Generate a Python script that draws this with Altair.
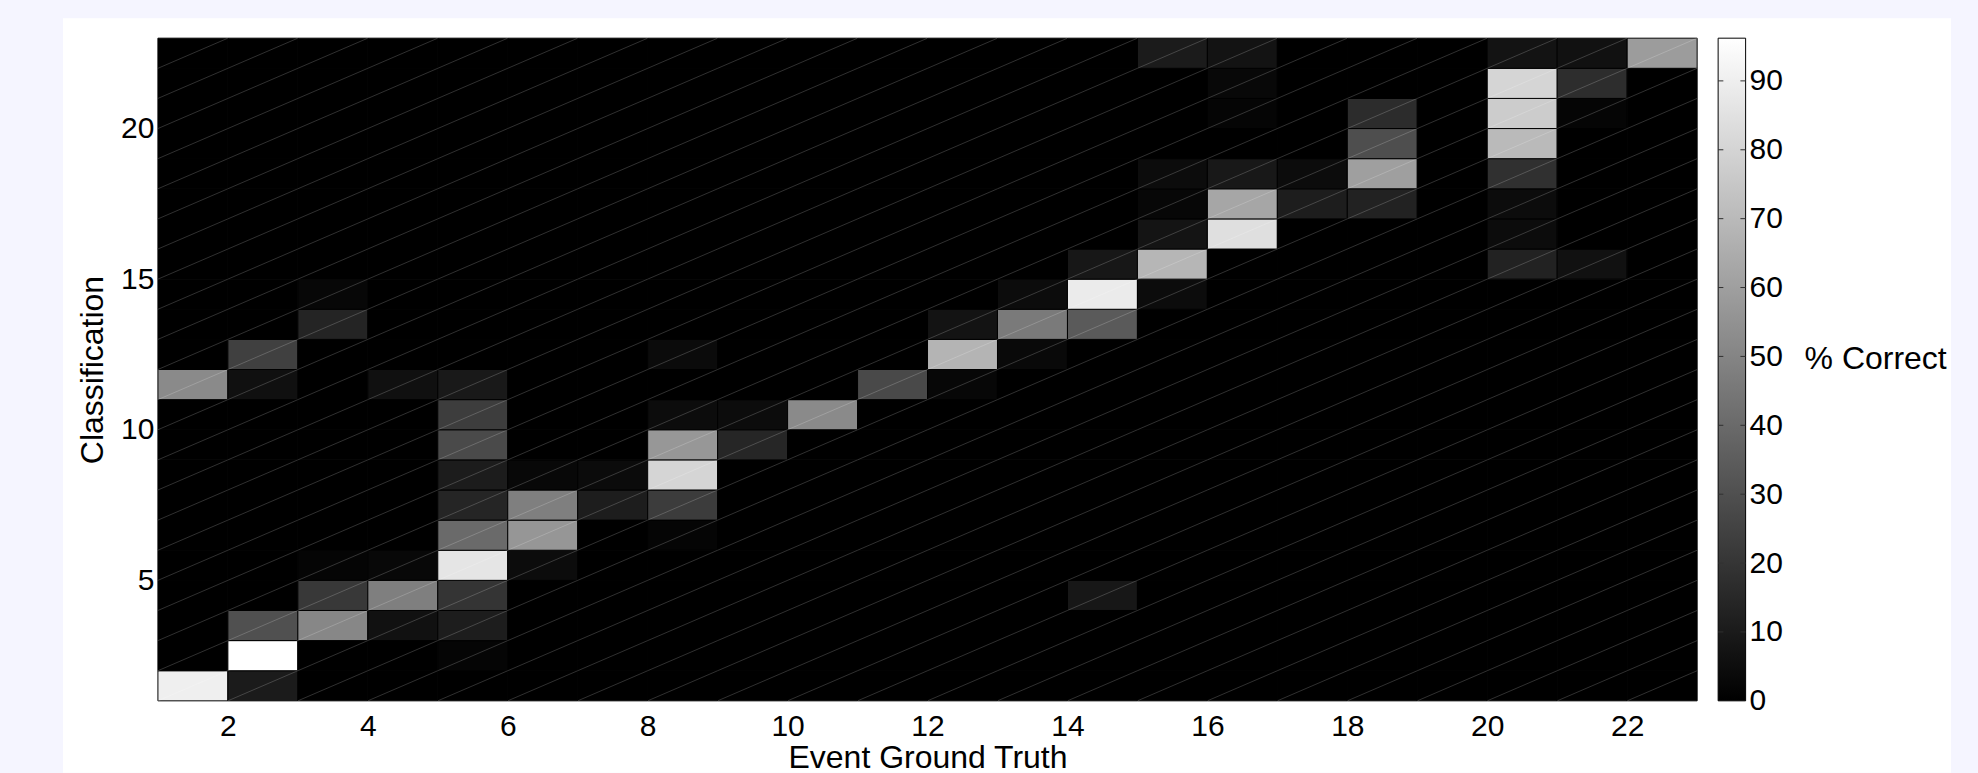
import altair as alt
import pandas as pd

# ---- data (cells not listed are 0 % ) ----
# column = event ground truth, row = classification, value = % correct
truth = [1, 2,
         2, 5,
         2, 3, 4, 5,
         3, 4, 5, 14,
         3, 4, 5, 6,
         5, 6, 8,
         5, 6, 7, 8,
         5, 6, 7, 8,
         5, 8, 9,
         5, 8, 9, 10,
         1, 2, 4, 5, 11, 12,
         2, 8, 12, 13,
         3, 12, 13, 14,
         3, 13, 14, 15,
         14, 15, 20, 21,
         15, 16, 20,
         15, 16, 17, 18, 20,
         15, 16, 17, 18, 20,
         18, 20,
         16, 18, 20, 21,
         16, 20, 21,
         15, 16, 20, 21, 22]
classif = [1, 1,
           2, 2,
           3, 3, 3, 3,
           4, 4, 4, 4,
           5, 5, 5, 5,
           6, 6, 6,
           7, 7, 7, 7,
           8, 8, 8, 8,
           9, 9, 9,
           10, 10, 10, 10,
           11, 11, 11, 11, 11, 11,
           12, 12, 12, 12,
           13, 13, 13, 13,
           14, 14, 14, 14,
           15, 15, 15, 15,
           16, 16, 16,
           17, 17, 17, 17, 17,
           18, 18, 18, 18, 18,
           19, 19,
           20, 20, 20, 20,
           21, 21, 21,
           22, 22, 22, 22, 22]
pct = [90, 10,
       96.2, 2,
       30, 51, 6.5, 11,
       21, 48, 19.5, 8.5,
       2, 3, 86.5, 4.5,
       40, 56.5, 2,
       14, 48, 11, 22.5,
       10.5, 3, 4, 80.5,
       28, 57, 14.5,
       23, 4.5, 4.5, 52,
       52, 6, 6, 9.5, 27.5, 2.5,
       24, 4, 68, 3.5,
       13.5, 7, 46, 34,
       2.5, 4.5, 88.5, 4.5,
       8.5, 68.5, 13, 6.5,
       7.5, 84, 4.5,
       2.5, 62.5, 11, 13, 4.5,
       4.5, 9, 4.5, 60, 18,
       29.5, 70,
       2, 16.5, 77, 2,
       3, 80.5, 17,
       10, 7, 7, 6.5, 59]

classes = list(range(1, 23))
x_ticks = [2, 4, 6, 8, 10, 12, 14, 16, 18, 20, 22]
y_ticks = [5, 10, 15, 20]
cbar_ticks = [0, 10, 20, 30, 40, 50, 60, 70, 80, 90]
cmax = 96.2

lookup = {(a, b): v for a, b, v in zip(truth, classif, pct)}
cells = pd.DataFrame(
    [{"truth": a, "truth2": a + 1, "cls": b, "cls2": b + 1,
      "pct": lookup.get((a, b), 0.0)} for b in classes for a in classes]
)

FONT = "Liberation Sans"

xscale = alt.Scale(domain=[1, 23], nice=False, zero=False)
yscale = alt.Scale(domain=[1, 23], nice=False, zero=False)

card = alt.Chart(pd.DataFrame({"k": [0]})).mark_rect(color="white").encode(
    x=alt.value(-95), x2=alt.value(1794), y=alt.value(-20), y2=alt.value(735)
)

rects = alt.Chart(cells).mark_rect(stroke="black", strokeWidth=1).encode(
    x=alt.X("truth:Q", scale=xscale,
            axis=alt.Axis(values=x_ticks, format="d", title="Event Ground Truth",
                          ticks=False, domain=False, grid=False, labelPadding=11,
                          labelFontSize=30, titleFontSize=32,
                          titleX=770, titleY=67, titleBaseline="alphabetic",
                          titleAlign="center", zindex=2)),
    x2="truth2:Q",
    y=alt.Y("cls:Q", scale=yscale,
            axis=alt.Axis(values=y_ticks, format="d", title="Classification",
                          ticks=False, domain=False, grid=False, labelPadding=4,
                          labelFontSize=30, titleFontSize=32,
                          titleX=-55, titleY=331.5, titleAngle=270,
                          titleBaseline="alphabetic", titleAlign="center",
                          zindex=2)),
    y2="cls2:Q",
    color=alt.Color("pct:Q",
                    scale=alt.Scale(domain=[0, cmax], range=["black", "white"],
                                    interpolate="rgb"),
                    legend=None),
)

diag = alt.Chart(cells).mark_rule(color="white", opacity=0.24, strokeWidth=0.8).encode(
    x=alt.X("truth:Q", scale=xscale), x2="truth2:Q",
    y=alt.Y("cls:Q", scale=yscale), y2="cls2:Q",
)

heat = alt.layer(card, rects, diag)

# ---- colour bar ----
cb = pd.DataFrame({"lo": [0.0], "hi": [cmax], "x0": [0.0], "x1": [1.0]})
cbx = alt.Scale(domain=[0, 1], range=[1561, 1588.5])
cby = alt.Scale(domain=[0, cmax], nice=False, zero=False)

cb_axis = alt.Axis(orient="right", values=cbar_ticks, format="d", offset=48,
                   ticks=False, domain=False, grid=False,
                   labelPadding=4, labelFontSize=30, labelFlush=False,
                   title="% Correct", titleFontSize=32, titleAngle=0,
                   titleX=59, titleY=330, titleAlign="left",
                   titleBaseline="alphabetic", zindex=2)

grad = alt.Gradient(
    gradient="linear",
    stops=[alt.GradientStop(color="black", offset=0),
           alt.GradientStop(color="white", offset=1)],
    x1=0, x2=0, y1=1, y2=0,
)

cb_rect = alt.Chart(cb).mark_rect(fill=grad, stroke="black", strokeWidth=1).encode(
    x=alt.X("x0:Q", scale=cbx, axis=None), x2="x1:Q",
    y=alt.Y("lo:Q", scale=cby, axis=cb_axis),
    y2="hi:Q",
)

tick_rows = []
for t in cbar_ticks[1:]:
    tick_rows.append({"v": t, "xa": 0.0, "xb": 0.19})
    tick_rows.append({"v": t, "xa": 0.81, "xb": 1.0})
cb_ticks = alt.Chart(pd.DataFrame(tick_rows)).mark_rule(color="#303030", strokeWidth=1).encode(
    x=alt.X("xa:Q", scale=cbx, axis=None), x2="xb:Q",
    y=alt.Y("v:Q", scale=cby, axis=cb_axis),
)

cbar = alt.layer(cb_rect, cb_ticks)

chart = (
    alt.layer(heat, cbar)
    .resolve_scale(x="independent", y="independent", color="independent")
    .properties(width=1540, height=663,
                padding={"left": 63, "top": 18, "right": 27, "bottom": 0})
    .configure(background="#f5f5ff")
    .configure_view(stroke="black", strokeWidth=1)
    .configure_axis(labelFont=FONT, titleFont=FONT, labelColor="black",
                    titleColor="black", titleFontWeight="normal")
)

chart.save("out.html", embed_options={"renderer": "svg", "actions": False})
